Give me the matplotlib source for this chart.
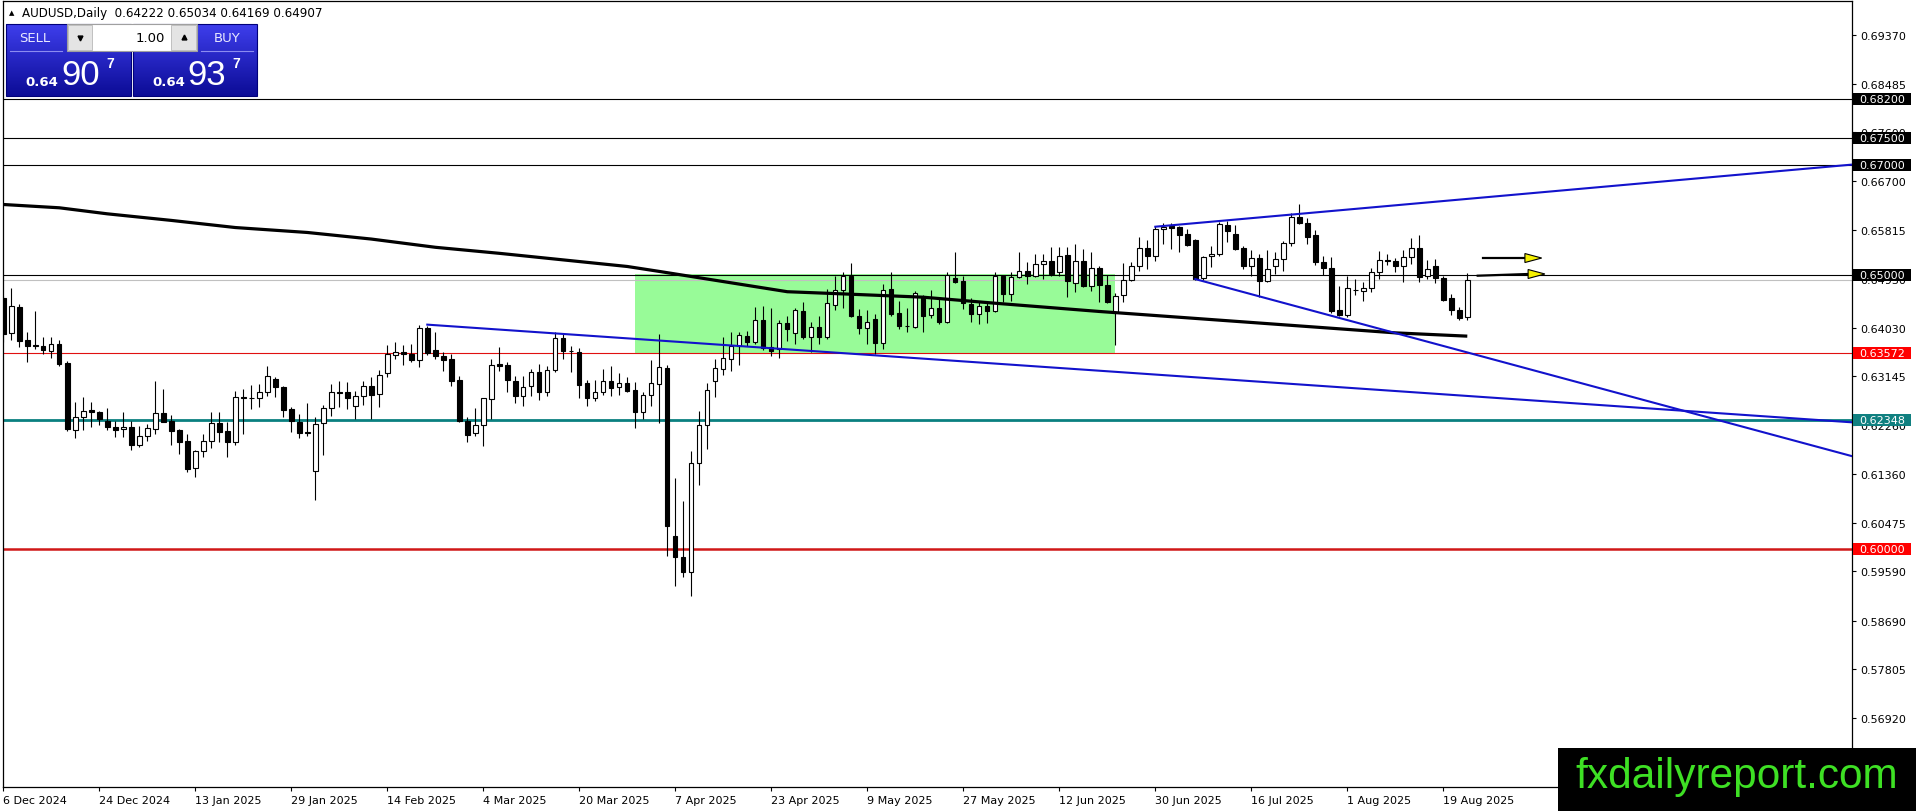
import numpy as np
import matplotlib
matplotlib.use('Agg')
import matplotlib.pyplot as plt
from matplotlib.patches import Rectangle, Polygon

plt.rcParams['font.family'] = ['DejaVu Sans']

# daily AUDUSD candles, 6 Dec 2024 .. 22 Aug 2025
opens = [0.64569, 0.63931, 0.64405, 0.63810, 0.63719, 0.63694, 0.63603, 0.63737, 0.63390, 0.62169,
         0.62400, 0.62528, 0.62491, 0.62339, 0.62218, 0.62181, 0.62218, 0.61896, 0.62054, 0.62187,
         0.62473, 0.62339, 0.62169, 0.61963, 0.61470, 0.61780, 0.61963, 0.62297, 0.62145, 0.61944,
         0.62765, 0.62760, 0.62746, 0.62868, 0.63099, 0.62959, 0.62552, 0.62309, 0.62127, 0.61428,
         0.62291, 0.62564, 0.62856, 0.62856, 0.62601, 0.62795, 0.62965, 0.62819, 0.63202, 0.63536,
         0.63585, 0.63555, 0.63451, 0.64022, 0.63627, 0.63512, 0.63463, 0.63081, 0.62339, 0.62108,
         0.62260, 0.62728, 0.63372, 0.63348, 0.63056, 0.62795, 0.62965, 0.63220, 0.62856, 0.63269,
         0.63840, 0.63615, 0.63597, 0.63020, 0.62746, 0.62856, 0.63056, 0.62947, 0.63020, 0.62898,
         0.62491, 0.62807, 0.63008, 0.63299, 0.60231, 0.59848, 0.59575, 0.61562, 0.62260, 0.63056,
         0.63281, 0.63463, 0.63707, 0.63889, 0.63767, 0.64174, 0.63676, 0.63646, 0.64120, 0.63931,
         0.64332, 0.63858, 0.64041, 0.63858, 0.64454, 0.64721, 0.64970, 0.64253, 0.64022, 0.64193,
         0.63749, 0.64739, 0.64296, 0.64071, 0.64053, 0.64587, 0.64265, 0.64387, 0.64132, 0.64934,
         0.64879, 0.64466, 0.64284, 0.64436, 0.64332, 0.64970, 0.64648, 0.64952, 0.65074, 0.64970,
         0.65195, 0.65244, 0.65043, 0.65359, 0.64849, 0.65256, 0.64800, 0.65116, 0.64812, 0.64314,
         0.64630, 0.64910, 0.65153, 0.65481, 0.65335, 0.65833, 0.65882, 0.65864, 0.65742, 0.65633,
         0.64934, 0.65335, 0.65371, 0.65906, 0.65742, 0.65481, 0.65165, 0.65298, 0.64891, 0.65153,
         0.65286, 0.65578, 0.66046, 0.65942, 0.65724, 0.65238, 0.65116, 0.64363, 0.64266, 0.64727,
         0.64697, 0.64752, 0.65043, 0.65262, 0.65256, 0.65153, 0.65317, 0.65481, 0.64970, 0.65153,
         0.64940, 0.64575, 0.64357, 0.64222]
highs = [0.64618, 0.64751, 0.64466, 0.63949, 0.64332, 0.63858, 0.63858, 0.63810, 0.63433, 0.62674,
         0.62765, 0.62674, 0.62522, 0.62564, 0.62339, 0.62491, 0.62339, 0.62248, 0.62279, 0.63068,
         0.62917, 0.62443, 0.62187, 0.62096, 0.61811, 0.62096, 0.62491, 0.62491, 0.62309, 0.62886,
         0.62917, 0.62989, 0.63008, 0.63330, 0.63129, 0.62977, 0.62582, 0.62461, 0.62661, 0.62400,
         0.62625, 0.63008, 0.63068, 0.63038, 0.62886, 0.63068, 0.63129, 0.63269, 0.63719, 0.63767,
         0.63725, 0.63737, 0.64089, 0.64071, 0.63949, 0.63597, 0.63555, 0.63160, 0.62400, 0.62564,
         0.62760, 0.63463, 0.63676, 0.63403, 0.63160, 0.63160, 0.63281, 0.63372, 0.63342, 0.63950,
         0.63919, 0.63707, 0.63658, 0.63087, 0.63081, 0.63281, 0.63342, 0.63202, 0.63141, 0.63038,
         0.62868, 0.63445, 0.63919, 0.63354, 0.61288, 0.60881, 0.61793, 0.62510, 0.63020, 0.63463,
         0.63858, 0.63950, 0.63962, 0.63980, 0.64405, 0.64423, 0.64387, 0.64174, 0.64253, 0.64387,
         0.64496, 0.64132, 0.64241, 0.64739, 0.64970, 0.65055, 0.65207, 0.64375, 0.64357, 0.64284,
         0.64831, 0.65043, 0.64527, 0.64387, 0.64709, 0.64630, 0.64721, 0.64557, 0.65043, 0.65408,
         0.64982, 0.64569, 0.64527, 0.64527, 0.65055, 0.64995, 0.65055, 0.65408, 0.65225, 0.65377,
         0.65377, 0.65499, 0.65499, 0.65499, 0.65560, 0.65468, 0.65408, 0.65165, 0.64995, 0.64660,
         0.65213, 0.65226, 0.65681, 0.65639, 0.65882, 0.65936, 0.65936, 0.65894, 0.65833, 0.65651,
         0.65347, 0.65517, 0.65967, 0.65973, 0.65912, 0.65529, 0.65450, 0.65377, 0.65450, 0.65420,
         0.65620, 0.66125, 0.66289, 0.66028, 0.65821, 0.65347, 0.65317, 0.64788, 0.64970, 0.64922,
         0.64861, 0.65116, 0.65438, 0.65377, 0.65304, 0.65450, 0.65663, 0.65724, 0.65274, 0.65286,
         0.64982, 0.64648, 0.64405, 0.65034]
lows = [0.63767, 0.63810, 0.63676, 0.63403, 0.63646, 0.63555, 0.63476, 0.63342, 0.62157, 0.62017,
        0.62175, 0.62218, 0.62266, 0.62175, 0.62036, 0.62036, 0.61811, 0.61853, 0.61975, 0.62096,
        0.62309, 0.61902, 0.61732, 0.61410, 0.61319, 0.61683, 0.61835, 0.61944, 0.61671, 0.61896,
        0.62096, 0.62552, 0.62582, 0.62795, 0.62777, 0.62400, 0.62127, 0.62017, 0.62066, 0.60899,
        0.61720, 0.62430, 0.62582, 0.62552, 0.62370, 0.62625, 0.62370, 0.62582, 0.63129, 0.63463,
        0.63360, 0.63415, 0.63311, 0.63536, 0.63463, 0.63251, 0.62977, 0.62321, 0.61944, 0.62054,
        0.61884, 0.62370, 0.63251, 0.62856, 0.62661, 0.62613, 0.62795, 0.62722, 0.62795, 0.63233,
        0.63463, 0.63233, 0.62746, 0.62601, 0.62704, 0.62807, 0.62795, 0.62813, 0.62856, 0.62206,
        0.62370, 0.62601, 0.62297, 0.59879, 0.59332, 0.59484, 0.59150, 0.61173, 0.61823, 0.62777,
        0.63172, 0.63251, 0.63354, 0.63707, 0.63737, 0.63634, 0.63524, 0.63476, 0.63800, 0.63737,
        0.63828, 0.63585, 0.63737, 0.63828, 0.64357, 0.64393, 0.64223, 0.63919, 0.63737, 0.63555,
        0.63646, 0.64253, 0.64010, 0.63949, 0.64022, 0.63949, 0.64205, 0.64101, 0.64114, 0.64849,
        0.64375, 0.64132, 0.64101, 0.64120, 0.64326, 0.64496, 0.64527, 0.64934, 0.64831, 0.64952,
        0.64922, 0.64982, 0.64982, 0.64587, 0.64691, 0.64770, 0.64709, 0.64496, 0.64484, 0.63720,
        0.64509, 0.64891, 0.65074, 0.65104, 0.65256, 0.65560, 0.65469, 0.65408, 0.65517, 0.64910,
        0.64910, 0.65134, 0.65335, 0.65602, 0.65450, 0.65104, 0.64982, 0.64588, 0.64873, 0.65013,
        0.65074, 0.65517, 0.65924, 0.65560, 0.65177, 0.64995, 0.64302, 0.64253, 0.64235, 0.64630,
        0.64527, 0.64679, 0.64922, 0.65177, 0.65043, 0.64861, 0.65195, 0.64861, 0.64922, 0.64843,
        0.64515, 0.64272, 0.64180, 0.64169]
closes = [0.63919, 0.64423, 0.63798, 0.63706, 0.63700, 0.63634, 0.63731, 0.63372, 0.62187, 0.62400,
          0.62509, 0.62503, 0.62370, 0.62218, 0.62175, 0.62218, 0.61902, 0.62054, 0.62200, 0.62473,
          0.62321, 0.62157, 0.61957, 0.61458, 0.61780, 0.61963, 0.62297, 0.62139, 0.61944, 0.62765,
          0.62746, 0.62755, 0.62856, 0.63160, 0.62947, 0.62540, 0.62339, 0.62108, 0.62108, 0.62279,
          0.62564, 0.62868, 0.62844, 0.62746, 0.62795, 0.62965, 0.62807, 0.63178, 0.63555, 0.63585,
          0.63548, 0.63451, 0.64022, 0.63573, 0.63512, 0.63451, 0.63068, 0.62339, 0.62084, 0.62260,
          0.62746, 0.63360, 0.63342, 0.63087, 0.62795, 0.62947, 0.63220, 0.62856, 0.63269, 0.63840,
          0.63615, 0.63603, 0.62996, 0.62746, 0.62856, 0.63056, 0.62929, 0.63020, 0.62886, 0.62491,
          0.62807, 0.63020, 0.63312, 0.60413, 0.59848, 0.59575, 0.61562, 0.62260, 0.62904, 0.63293,
          0.63482, 0.63707, 0.63907, 0.63767, 0.64180, 0.63658, 0.63615, 0.64114, 0.64005, 0.64357,
          0.63858, 0.64041, 0.63858, 0.64478, 0.64721, 0.64970, 0.64253, 0.64022, 0.64144, 0.63749,
          0.64727, 0.64284, 0.64071, 0.64065, 0.64660, 0.64253, 0.64387, 0.64132, 0.64995, 0.64873,
          0.64478, 0.64284, 0.64436, 0.64344, 0.64970, 0.64648, 0.64952, 0.65074, 0.64982, 0.65195,
          0.65244, 0.65013, 0.65347, 0.64891, 0.65256, 0.64800, 0.65116, 0.64818, 0.64509, 0.64618,
          0.64910, 0.65153, 0.65481, 0.65335, 0.65833, 0.65876, 0.65845, 0.65724, 0.65548, 0.64922,
          0.65329, 0.65371, 0.65924, 0.65803, 0.65469, 0.65165, 0.65298, 0.64891, 0.65104, 0.65286,
          0.65578, 0.66046, 0.65936, 0.65681, 0.65226, 0.65116, 0.64345, 0.64266, 0.64752, 0.64715,
          0.64752, 0.65043, 0.65268, 0.65250, 0.65153, 0.65317, 0.65481, 0.64952, 0.65104, 0.64934,
          0.64545, 0.64363, 0.64211, 0.64907]

# moving average (at a few bars)
ma_bars = [0, 7, 13, 21, 29, 38, 46, 54, 62, 70, 78, 82, 98, 105, 115, 124, 137, 174, 183]
ma_vals = [0.6628, 0.6622, 0.6611, 0.6599, 0.6586, 0.6577, 0.6565, 0.6550, 0.6539, 0.6527,
           0.6515, 0.6506, 0.6469, 0.6465, 0.6459, 0.6448, 0.6433, 0.6394, 0.6388]

date_labels = ['6 Dec 2024', '24 Dec 2024', '13 Jan 2025', '29 Jan 2025', '14 Feb 2025',
               '4 Mar 2025', '20 Mar 2025', '7 Apr 2025', '23 Apr 2025', '9 May 2025',
               '27 May 2025', '12 Jun 2025', '30 Jun 2025', '16 Jul 2025', '1 Aug 2025',
               '19 Aug 2025']
date_bars = list(range(0, 181, 12))

price_ticks = [0.69370, 0.68485, 0.67600, 0.66700, 0.65815, 0.64930, 0.64030, 0.63145,
               0.62260, 0.61360, 0.60475, 0.59590, 0.58690, 0.57805, 0.56920]

# horizontal levels
black_levels = [0.68200, 0.67500, 0.67000, 0.65000]
bid_level = 0.64907
red_level = 0.63572
teal_level = 0.62348
red_level2 = 0.60000

# range box
box_bars = [79, 139]
box_prices = [0.6355, 0.6502]

# trend lines: (bar, price) anchor pairs, extended to the right edge
upper_tl = [(144, 0.65875), (174, 0.66265)]
lower_tl1 = [(53, 0.6409), (137, 0.6325)]
lower_tl2 = [(149, 0.6492), (174, 0.63937)]

# the two arrows on the right
arrow_start = [(185.0, 0.65304), (184.3, 0.64982)]
arrow_end = [(190.2, 0.65304), (190.6, 0.65013)]
arrow_tip = [(192.3, 0.65304), (192.7, 0.65013)]

W, H = 1916, 812
fig = plt.figure(figsize=(W / 100, H / 100), dpi=100)
fig.patch.set_facecolor('white')

left_px, right_px, top_px, bot_px = 2.5, 1852, 1.7, 788.3
ax = fig.add_axes([left_px / W, 1 - bot_px / H, (right_px - left_px) / W, (bot_px - top_px) / H])
xmin, xmax = (left_px - 3.3) / 8, (right_px - 3.3) / 8
ax.set_xlim(xmin, xmax)
ax.set_ylim(0.55656, 0.69995)
ax.set_facecolor('white')
for s in ax.spines.values():
    s.set_linewidth(0.9)
    s.set_color('black')

# box
ax.add_patch(Rectangle((box_bars[0], box_prices[0]), box_bars[1] - box_bars[0],
                       box_prices[1] - box_prices[0], facecolor='#98fb98', edgecolor='none', zorder=1))

# levels
for lv in black_levels:
    ax.axhline(lv, color='black', lw=0.8, zorder=2)
ax.axhline(bid_level, color='#c0c0c0', lw=0.8, zorder=2)
ax.axhline(red_level, color='#e01010', lw=0.8, zorder=2)
ax.axhline(teal_level, color='#0a8080', lw=2.0, zorder=2)
ax.axhline(red_level2, color='#d01818', lw=1.8, zorder=2)

# candles
o = np.array(opens)
h = np.array(highs)
l = np.array(lows)
c = np.array(closes)
x = np.arange(len(o))
up = c >= o
ax.vlines(x, l, h, color='black', lw=0.8, zorder=3)
bot = np.minimum(o, c)
hgt = np.maximum(np.abs(c - o), 0.00001)
ax.bar(x[up], hgt[up], bottom=bot[up], width=0.55, facecolor='white', edgecolor='black', lw=0.8, zorder=4)
ax.bar(x[~up], hgt[~up], bottom=bot[~up], width=0.55, facecolor='black', edgecolor='black', lw=0.8, zorder=4)

# moving average
ax.plot(ma_bars, ma_vals, color='black', lw=2.3, solid_capstyle='butt', zorder=5)


def ray(pts):
    (b0, p0), (b1, p1) = pts
    k = (p1 - p0) / (b1 - b0)
    return [b0, xmax], [p0, p0 + k * (xmax - b0)]


for tl in [upper_tl, lower_tl1, lower_tl2]:
    xs, ys = ray(tl)
    ax.plot(xs, ys, color='#1212cc', lw=1.5, zorder=5)

# arrows
head_h = 0.00082
for s0, e0, t0 in zip(arrow_start, arrow_end, arrow_tip):
    ax.plot([s0[0], e0[0]], [s0[1], e0[1]], color='black', lw=1.6, zorder=6)
    ax.add_patch(Polygon([(e0[0], e0[1] + head_h), (t0[0], t0[1]), (e0[0], e0[1] - head_h)],
                         closed=True, facecolor='#f5f000', edgecolor='black', lw=0.8, zorder=7))

# axes ticks
ax.yaxis.tick_right()
ax.set_yticks(price_ticks)
ax.set_yticklabels(['%.5f' % v for v in price_ticks])
ax.tick_params(axis='y', direction='out', length=3, width=0.8, pad=2.9, labelsize=8, right=True, left=False)
ax.set_xticks(date_bars)
ax.set_xticklabels(date_labels, ha='left')
ax.tick_params(axis='x', direction='out', length=3, width=0.8, pad=2.5, labelsize=8)

# price labels on the right axis
tr = ax.get_yaxis_transform()
hh = 6 / 5486
boxes = [(0.68200, 'black'), (0.67500, 'black'), (0.67000, 'black'), (0.65000, 'black'),
         (red_level, '#ff0000'), (teal_level, '#108080'), (red_level2, '#ff0000')]
for lv, col in boxes:
    ax.add_patch(Rectangle((1.0005, lv - hh), 0.0314, 2 * hh, transform=tr, clip_on=False,
                           facecolor=col, edgecolor='none', zorder=10))
    ax.text(1.0037, lv, '%.5f' % lv, transform=tr, color='white', fontsize=8, va='center',
            ha='left', clip_on=False, zorder=11)

# title line
fig.text(11.5 / W, 1 - 13.5 / H, '\u25b2', fontsize=5, ha='center', va='center')
fig.text(21.5 / W, 1 - 13.5 / H, 'AUDUSD,Daily  0.64222 0.65034 0.64169 0.64907',
         fontsize=8.6, ha='left', va='center')

# one click trading panel
pax = fig.add_axes([0, 1 - 100 / H, 262 / W, 100 / H], zorder=10)
pax.set_xlim(0, 262)
pax.set_ylim(100, 0)
pax.axis('off')

grad = np.linspace(0, 1, 60)[:, None, None]
ctop = np.array([62, 62, 236]) / 255
cbot = np.array([12, 12, 150]) / 255
img = ctop * (1 - grad) + cbot * grad
for x0, x1 in [(6, 131), (133, 257)]:
    pax.imshow(img, extent=(x0, x1, 97, 25), aspect='auto', zorder=1)
    pax.add_patch(Rectangle((x0, 25), x1 - x0, 72, facecolor='none', edgecolor='#00007a', lw=0.8, zorder=2))
pax.plot([10, 62], [52, 52], color='#8c8cf0', lw=0.8, zorder=3)
pax.plot([201, 253], [52, 52], color='#8c8cf0', lw=0.8, zorder=3)

# lot size widget
pax.add_patch(Rectangle((67, 25), 130, 27, facecolor='white', edgecolor='#a0a0a0', lw=0.8, zorder=3))
pax.add_patch(Rectangle((68, 26), 24, 25, facecolor='#e4e4e4', edgecolor='#b8b8b8', lw=0.6, zorder=4))
pax.add_patch(Rectangle((171, 26), 25, 25, facecolor='#e4e4e4', edgecolor='#b8b8b8', lw=0.6, zorder=4))
pax.plot(80, 38.5, marker='v', color='black', markersize=3.5, zorder=5)
pax.plot(183.5, 37.5, marker='^', color='black', markersize=3.5, zorder=5)
pax.text(165, 38.5, '1.00', fontsize=9.5, ha='right', va='center', zorder=5)

pax.text(35, 39, 'SELL', fontsize=9.5, color='#e8e8ff', ha='center', va='center', zorder=5)
pax.text(227, 39, 'BUY', fontsize=9.5, color='#e8e8ff', ha='center', va='center', zorder=5)

for x_small, x_big, x_sup, big in [(25, 61, 106, '90'), (152, 187, 232, '93')]:
    pax.text(x_small, 83, '0.64', fontsize=9.5, fontweight='bold', color='white', ha='left', va='center', zorder=5)
    pax.text(x_big, 75.5, big, fontsize=25, family='Liberation Sans', color='white', ha='left', va='center', zorder=5)
    pax.text(x_sup, 64.5, '7', fontsize=10, family='Liberation Sans', fontweight='bold', color='white',
             ha='left', va='center', zorder=5)

# watermark
wax = fig.add_axes([1558 / W, 0, (W - 1558) / W, 63 / H], zorder=20)
wax.set_facecolor('black')
wax.set_xticks([])
wax.set_yticks([])
for s in wax.spines.values():
    s.set_visible(False)
wax.text(17 / 358, 0.56, 'fxdailyreport.com', color='#3ee024', fontsize=30.5, family='Liberation Sans',
         ha='left', va='center', transform=wax.transAxes)

fig.savefig('out.png', dpi=100)
